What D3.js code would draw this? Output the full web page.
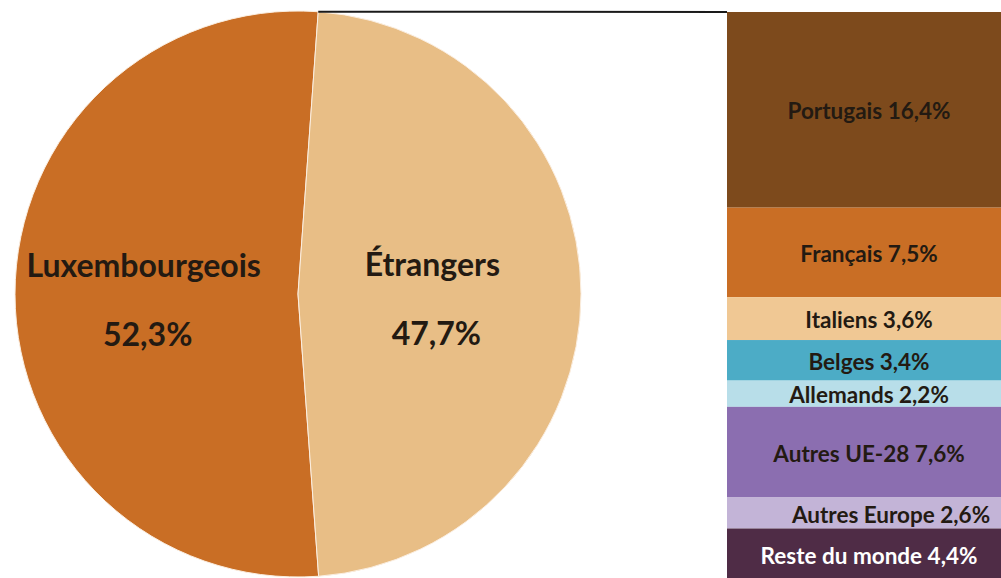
<!DOCTYPE html>
<html>
<head>
<meta charset="utf-8">
<script src="https://cdn.jsdelivr.net/npm/d3@7"></script>
<style>
	body { margin: 0; background: #fff; }
	svg { display: block; }
	text { font-family: Lato, "Open Sans", sans-serif; font-weight: bold; }
</style>
</head>
<body>
<svg id="chart" width="1001" height="578"></svg>
<script>
// pie: nationals vs foreigners
const pieLabels = ['Luxembourgeois', 'Étrangers'];
const pieValues = [52.3, 47.7];
const pieColors = ['#c96e25', '#e8be86'];

// bar: breakdown of foreigners
const barLabels = ['Portugais', 'Français', 'Italiens', 'Belges', 'Allemands',
	'Autres UE-28', 'Autres Europe', 'Reste du monde'];
const barValues = [16.4, 7.5, 3.6, 3.4, 2.2, 7.6, 2.6, 4.4];
const barColors = ['#7d4a1c', '#c96e25', '#f0c894', '#4cacc6', '#b8dee9',
	'#8b6eb0', '#c3b4d7', '#4f2c46'];

const fmt = v => d3.format('.1f')(v).replace('.', ',') + '%';

const svg = d3.select('#chart');
const cx = 298, cy = 294, r = 283;

// Étrangers starts just right of 12 o'clock
const splitAngle = 4.1 * Math.PI / 180;
const total = d3.sum(pieValues);
const pie = d3.pie().sort(null)
	.startAngle(splitAngle - 2 * Math.PI * pieValues[0] / total)
	.endAngle(splitAngle + 2 * Math.PI * pieValues[1] / total);
const arcs = pie(pieValues);
const arc = d3.arc().innerRadius(0).outerRadius(r);
const labelArc = d3.arc().innerRadius(0).outerRadius(r * 1.02);

const pieG = svg.append('g').attr('transform', `translate(${cx},${cy})`);
pieG.selectAll('path')
	.data(arcs)
	.enter()
	.append('path')
		.attr('d', arc)
		.attr('fill', (d, i) => pieColors[i])
		.attr('stroke', '#fbeee0')
		.attr('stroke-width', 1);

pieG.selectAll('text.name')
	.data(arcs)
	.enter()
	.append('text')
		.attr('x', d => labelArc.centroid(d)[0] - 10)
		.attr('y', d => labelArc.centroid(d)[1] - 30)
		.attr('text-anchor', 'middle')
		.attr('dominant-baseline', 'central')
		.attr('font-size', 32)
		.attr('fill', '#231a12')
		.text((d, i) => pieLabels[i]);

pieG.selectAll('text.val')
	.data(arcs)
	.enter()
	.append('text')
		.attr('x', d => labelArc.centroid(d)[0] - 6)
		.attr('y', d => labelArc.centroid(d)[1] + 39)
		.attr('text-anchor', 'middle')
		.attr('dominant-baseline', 'central')
		.attr('font-size', 32)
		.attr('fill', '#231a12')
		.text((d, i) => fmt(pieValues[i]));

// stacked bar of the foreign share
const y = d3.scaleLinear().domain([0, d3.sum(barValues)]).range([12, 581]);
const x = d3.scaleLinear().domain([0, 1]).range([727, 1011]);
const stackTops = d3.cumsum([0].concat(barValues));

const barG = svg.append('g');
barG.selectAll('rect')
	.data(barValues)
	.enter()
	.append('rect')
		.attr('x', x(0))
		.attr('width', x(1) - x(0))
		.attr('y', (d, i) => y(stackTops[i]))
		.attr('height', d => y(d) - y(0))
		.attr('fill', (d, i) => barColors[i]);

// Excel nudged this one to the right
const labelShift = [0, 0, 0, 0, 0, 0, 22, 0];
barG.selectAll('text')
	.data(barValues)
	.enter()
	.append('text')
		.attr('x', (d, i) => (x(0) + x(1)) / 2 + labelShift[i])
		.attr('y', (d, i) => y(stackTops[i] + d / 2) + 1)
		.attr('text-anchor', 'middle')
		.attr('dominant-baseline', 'central')
		.attr('font-size', 22.5)
		.attr('fill', (d, i) => i === barValues.length - 1 ? '#ffffff' : '#231a12')
		.text((d, i) => barLabels[i] + ' ' + fmt(d));

// connector from pie split to bar top
svg.append('line')
	.attr('x1', cx + r * Math.sin(splitAngle))
	.attr('y1', cy - r * Math.cos(splitAngle))
	.attr('x2', x(0))
	.attr('y2', y(0))
	.attr('stroke', '#1a1a1a')
	.attr('stroke-width', 2);
</script>
</body>
</html>
